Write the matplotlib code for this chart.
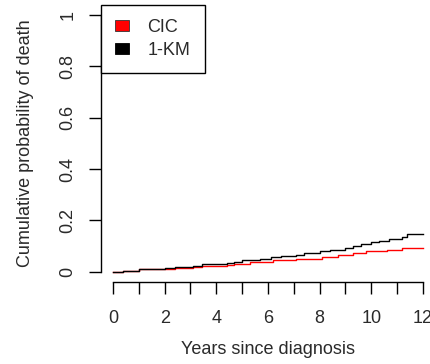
import matplotlib
matplotlib.use("Agg")
import matplotlib.pyplot as plt
from matplotlib.patches import Patch

plt.rcParams["font.family"] = ["Liberation Sans", "DejaVu Sans"]

# step curves: event times (years) and cumulative probability after each step
km_times = [0, 0.4, 1.0, 2.0, 2.4, 3.1, 3.45, 4.4, 4.7, 5.0, 5.7, 6.1, 6.5,
            7.1, 7.4, 8.0, 8.4, 9.0, 9.3, 9.6, 10.0, 10.3, 10.7, 11.2, 11.4,
            12.0]
km_prob = [0, 0.003, 0.009, 0.013, 0.018, 0.023, 0.029, 0.033, 0.038, 0.044,
           0.050, 0.057, 0.062, 0.067, 0.072, 0.079, 0.086, 0.093, 0.101,
           0.110, 0.115, 0.120, 0.127, 0.134, 0.146, 0.146]

cic_times = [0, 0.4, 1.0, 2.0, 2.4, 3.1, 3.45, 4.4, 4.7, 5.3, 6.2, 7.1, 8.1,
             8.7, 9.3, 9.8, 10.6, 11.2, 12.0]
cic_prob = [0, 0.003, 0.009, 0.011, 0.015, 0.018, 0.024, 0.028, 0.032,
            0.038, 0.045, 0.051, 0.058, 0.066, 0.072, 0.079, 0.085, 0.093,
            0.093]

x_ticks = list(range(0, 13))
x_labels = ["0", "", "2", "", "4", "", "6", "", "8", "", "10", "", "12"]
y_ticks = [0, 0.2, 0.4, 0.6, 0.8, 1.0]
y_labels = ["0", "0.2", "0.4", "0.6", "0.8", "1"]

FS = 13
TXT = "#2a2a2a"
W, H = 431, 364
fig = plt.figure(figsize=(W / 100, H / 100), dpi=100)
# plot region in pixels (R style, 4% padding around the data range)
left, right, top, bottom = 100.6, 435.4, 4.8, 282.0
ax = fig.add_axes([left / W, 1 - bottom / H, (right - left) / W, (bottom - top) / H])
ax.set_xlim(-0.48, 12.48)
ax.set_ylim(-0.04, 1.04)

ax.step(cic_times, cic_prob, where="post", color="#ff0000", lw=1.0)
ax.step(km_times, km_prob, where="post", color="black", lw=1.0)

for s in ("top", "right"):
    ax.spines[s].set_visible(False)
ax.spines["bottom"].set_bounds(0, 12)
ax.spines["left"].set_bounds(0, 1)
for s in ("bottom", "left"):
    ax.spines[s].set_linewidth(1.0)

ax.set_xticks(x_ticks)
ax.set_xticklabels(x_labels)
ax.set_yticks(y_ticks)
ax.set_yticklabels(y_labels, rotation=90, va="center")
ax.tick_params(axis="both", direction="out", length=8.5, width=1.0,
               labelsize=FS, colors="black")
ax.tick_params(axis="x", pad=12)
ax.tick_params(axis="y", pad=9)
for t in ax.get_xticklabels() + ax.get_yticklabels():
    t.set_color(TXT)

ax.set_xlabel("Years since diagnosis", fontsize=FS, labelpad=10, color=TXT)
ax.set_ylabel("Cumulative probability of death", fontsize=FS, labelpad=18,
              color=TXT)

handles = [Patch(facecolor="#ff0000", edgecolor="#333333", lw=0.6),
           Patch(facecolor="black", edgecolor="black", lw=0.6)]
leg = ax.legend(handles, ["CIC", "1-KM"], loc="upper left",
                bbox_to_anchor=(0, 1), borderaxespad=0, fancybox=False,
                framealpha=1, edgecolor="black", fontsize=FS,
                handlelength=0.8, handleheight=0.55, handletextpad=1.0,
                borderpad=0.8, labelspacing=0.3)
leg.get_frame().set_linewidth(1.0)
for t in leg.get_texts():
    t.set_color(TXT)

fig.savefig("out.png", dpi=100)
